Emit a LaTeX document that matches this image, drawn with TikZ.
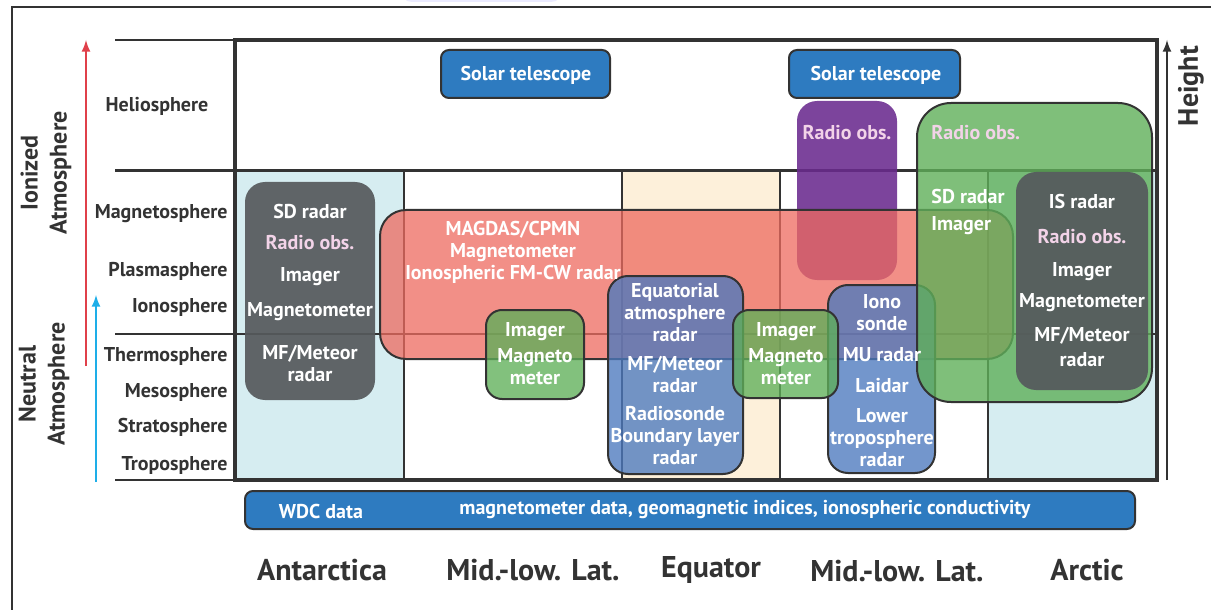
\documentclass[tikz,border=0pt]{standalone}
\usepackage{fontspec}
\setmainfont{PT Sans}
\definecolor{framegray}{HTML}{333333}
\definecolor{polarblue}{HTML}{D6EDF1}
\definecolor{equatorbg}{HTML}{FDF0DA}
\definecolor{telblue}{HTML}{2E7BC0}
\definecolor{magred}{HTML}{ED6A5F}
\definecolor{obsgreen}{HTML}{5FAF59}
\definecolor{radarblue}{HTML}{4C79BE}
\definecolor{radiopurple}{HTML}{6A2A8E}
\definecolor{stationgray}{HTML}{55595C}
\definecolor{radiopink}{HTML}{F2D3E8}
\definecolor{ionred}{HTML}{E0404A}
\definecolor{neutralcyan}{HTML}{1EAEE8}
\usetikzlibrary{positioning}

\begin{document}
\begin{tikzpicture}[x=0.5pt,y=-0.5pt,
    box/.style={draw=framegray,line width=1pt},
    lbl/.style={font=\bfseries\fontsize{10}{11}\selectfont,text=framegray,inner sep=0pt},
    boxtxt/.style={font=\bfseries\fontsize{10}{11}\selectfont,text=white,align=center,inner sep=0pt,anchor=north},
    region/.style={font=\bfseries\fontsize{15}{18}\selectfont,text=framegray,inner sep=0pt},
    sidetxt/.style={font=\bfseries\fontsize{12}{14.5}\selectfont,text=framegray,align=center,rotate=90,inner sep=0pt}]
        \useasboundingbox (0,0) rectangle (1211,610);
        % outer frame and the cut-off tab on top
        \fill[blue!8,rounded corners=6pt](400,-20)rectangle(563,2);
        \draw[framegray,line width=1pt](12,615)--(12,7)--(1215,7);
        % latitude columns
        \fill[polarblue](235,171)rectangle(404,480);
        \fill[equatorbg](622,171)rectangle(780,480);
        \fill[polarblue](988,171)rectangle(1157,480);
        \foreach \x in {404,622,780,988} \draw[framegray,line width=1pt](\x,171)--(\x,480);
        \draw[framegray,line width=1pt](115,40)--(235,40);
        \draw[framegray,line width=1.5pt](115,171)--(1157,171);
        \draw[framegray,line width=1.2pt](115,334)--(1157,334);
        \draw[framegray,line width=1pt](115,480)--(235,480);
        \draw[framegray,line width=2pt](235,40)rectangle(1157,480);
        % height arrows
        \draw[-latex,ionred,line width=1pt](86,366)--(86,40);
        \draw[-latex,neutralcyan,line width=1pt](96,482)--(96,295);
        \draw[-latex,framegray,line width=1pt](1167,480)--(1167,40);
        \node[sidetxt](ion)at(46,173){Ionized\\Atmosphere};
        \node[sidetxt](neu)at(44,384){Neutral\\Atmosphere};
        \node[sidetxt,font=\bfseries\fontsize{14}{16}\selectfont](hgt)at(1191,86){Height};
        % layers
        \node[lbl](helio)at(157,106){Heliosphere};
        \foreach \name/\y in {Magnetosphere/214,Plasmasphere/271,Ionosphere/307,Thermosphere/356,Mesosphere/392,Stratosphere/427,Troposphere/465}
            \node[lbl,anchor=east](l\y)at(228,\y){\name};
        % observations
        \filldraw[box,fill=telblue,rounded corners=4pt](441,50)rectangle(610,98);
        \node[boxtxt,anchor=center](sol1)at(526,75){Solar telescope};
        \filldraw[box,fill=telblue,rounded corners=4pt](789,50)rectangle(960,98);
        \node[boxtxt,anchor=center](sol2)at(876,75){Solar telescope};
        \fill[radiopurple,fill opacity=0.88,rounded corners=10pt](797,101)rectangle(897,280);
        \filldraw[box,fill=magred,fill opacity=0.75,rounded corners=13pt](380,210)rectangle(1013,359);
        \filldraw[box,fill=radarblue,fill opacity=0.78,rounded corners=10pt](608,276)rectangle(743,474);
        \filldraw[box,fill=radarblue,fill opacity=0.78,rounded corners=10pt](828,285)rectangle(935,473);
        \filldraw[box,fill=obsgreen,fill opacity=0.78,rounded corners=8pt](486,310)rectangle(584,399);
        \filldraw[box,fill=obsgreen,fill opacity=0.78,rounded corners=8pt](733,310)rectangle(838,398);
        \filldraw[box,fill=obsgreen,fill opacity=0.8,rounded corners=17pt](917,103)rectangle(1152,402);
        \fill[stationgray,fill opacity=0.92,rounded corners=10pt](1016,172)rectangle(1148,390);
        \fill[stationgray,fill opacity=0.92,rounded corners=10pt](245,182)rectangle(375,400);
        \node[boxtxt](rad1)at(847,125){\color{radiopink}Radio obs.};
        \node[boxtxt,align=left,anchor=north west](arc)at(931,125){\color{radiopink}Radio obs.\\[21pt]SD radar\\[2.5pt]Imager};
        \node[boxtxt](mag)at(513,221){MAGDAS/CPMN\\Magnetometer\\Ionospheric FM-CW radar};
        \node[boxtxt](ant)at(310,204){SD radar\\[4.5pt]\color{radiopink}Radio obs.\\[5pt]Imager\\[6.5pt]Magnetometer\\[10.5pt]MF/Meteor\\radar};
        \node[boxtxt](isr)at(1082,194){IS radar\\[6.5pt]\color{radiopink}Radio obs.\\[5.5pt]Imager\\[4.5pt]Magnetometer\\[6pt]MF/Meteor\\[1.5pt]radar};
        \node[boxtxt](img1)at(535,322){Imager\\[2pt]Magneto\\meter};
        \node[boxtxt](img2)at(786,322){Imager\\[2pt]Magneto\\meter};
        \node[boxtxt](ear)at(675,283){Equatorial\\atmosphere\\radar\\[3.5pt]MF/Meteor\\radar\\[3pt]Radiosonde\\Boundary layer\\radar};
        \node[boxtxt](mur)at(882,294){Iono\\sonde\\[4.5pt]MU radar\\[4.5pt]Laidar\\[4pt]Lower\\troposphere\\radar};
        % data
        \filldraw[box,fill=telblue,rounded corners=4pt](245,491)rectangle(1135,529);
        \node[boxtxt,anchor=center](wdc)at(321,511){WDC data};
        \node[boxtxt,anchor=center](wdcd)at(745,510){magnetometer data, geomagnetic indices, ionospheric conductivity};
        % regions
        \node[region](r1)at(322,570){Antarctica};
        \node[region](r2)at(533,570){Mid.-low. Lat.};
        \node[region](r3)at(711,570){Equator};
        \node[region](r4)at(897,571){Mid.-low. Lat.};
        \node[region](r5)at(1087,570){Arctic};
    \end{tikzpicture}
\end{document}
